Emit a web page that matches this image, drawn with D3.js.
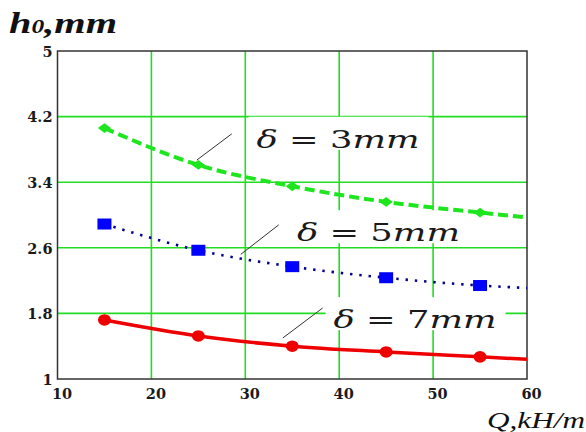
<!DOCTYPE html>
<html>
<head>
<meta charset="utf-8">
<script src="https://cdn.jsdelivr.net/npm/d3@7"></script>
<style>
body { margin:0; background:#fff; }
svg { display:block; }
</style>
</head>
<body>
<script>
// data
var qTicks = [10, 20, 30, 40, 50, 60];
var hTicks = [1, 1.8, 2.6, 3.4, 4.2, 5];
var qLine = [15, 25, 35, 45, 55, 60];
var qMarks = [15, 25, 35, 45, 55];
var h3 = [4.06, 3.61, 3.35, 3.16, 3.03, 2.97];
var h5 = [2.89, 2.57, 2.37, 2.235, 2.14, 2.11];
var h7 = [1.72, 1.525, 1.40, 1.33, 1.27, 1.24];
var deltas = ["3", "5", "7"];

var width = 586, height = 432;
var svg = d3.select("body").append("svg").attr("width", width).attr("height", height);

var x = d3.scaleLinear().domain([10, 60]).range([57.5, 527]);
var y = d3.scaleLinear().domain([1, 5]).range([379, 51]);

// grid
svg.append("g").selectAll("line").data(qTicks.slice(1, -1)).enter().append("line")
   .attr("x1", function(d) { return x(d); }).attr("x2", function(d) { return x(d); })
   .attr("y1", y(1)).attr("y2", y(5))
   .attr("stroke", "#22dd22").attr("stroke-width", 1.6);
svg.append("g").selectAll("line").data(hTicks.slice(1, -1)).enter().append("line")
   .attr("y1", function(d) { return y(d); }).attr("y2", function(d) { return y(d); })
   .attr("x1", x(10)).attr("x2", x(60))
   .attr("stroke", "#22dd22").attr("stroke-width", 1.6);

// annotation placement in data units: text start, baseline; leader from/to
var notes = [
  { q: 31.2, h: 3.82, lq1: 28.56, lh1: 3.99, lq2: 24.84, lh2: 3.67 },
  { q: 35.5, h: 2.68, lq1: 33.56, lh1: 2.88, lq2: 29.52, lh2: 2.52 },
  { q: 39.4, h: 1.62, lq1: 38.24, lh1: 1.866, lq2: 33.99, lh2: 1.50 }
];

// white boxes behind labels (they hide the grid)
notes.forEach(function(n) {
  svg.append("rect")
     .attr("x", x(n.q) - 8).attr("y", y(n.h) - 31)
     .attr("width", 180).attr("height", 33)
     .attr("fill", "#fff");
});

// frame
svg.append("rect").attr("x", x(10)).attr("y", y(5))
   .attr("width", x(60) - x(10)).attr("height", y(1) - y(5))
   .attr("fill", "none").attr("stroke", "#333").attr("stroke-width", 1.5);

// axes
var fontTick = "'DejaVu Serif', serif";
var yAxis = svg.append("g").attr("transform", "translate(" + x(10) + ",0)")
   .call(d3.axisLeft(y).tickValues(hTicks).tickSize(0).tickPadding(5).tickFormat(d3.format("")));
var xAxis = svg.append("g").attr("transform", "translate(0," + y(1) + ")")
   .call(d3.axisBottom(x).tickValues(qTicks).tickSize(0).tickPadding(10));
[yAxis, xAxis].forEach(function(a) {
  a.select(".domain").remove();
  a.selectAll("text").attr("font-family", fontTick).attr("font-size", 14.5)
   .attr("font-weight", "bold").attr("fill", "#1a1a1a");
});
xAxis.selectAll("text").attr("dx", 4);
yAxis.selectAll("text").attr("dy", "0.36em");

// curves
var line = d3.line().curve(d3.curveMonotoneX)
   .x(function(d) { return x(d[0]); }).y(function(d) { return y(d[1]); });
function pairs(vals) { return qLine.map(function(q, i) { return [q, vals[i]]; }); }

svg.append("path").attr("d", line(pairs(h3))).attr("fill", "none")
   .attr("stroke", "#1ee61e").attr("stroke-width", 4).attr("stroke-dasharray", "10,5");
svg.append("path").attr("d", line(pairs(h5))).attr("fill", "none")
   .attr("stroke", "#00008c").attr("stroke-width", 2.6).attr("stroke-dasharray", "2.4,6.9");
svg.append("path").attr("d", line(pairs(h7))).attr("fill", "none")
   .attr("stroke", "#ee0000").attr("stroke-width", 3.5);

// markers
var diamond = d3.symbol().type(d3.symbolSquare).size(66);
svg.append("g").selectAll("path").data(qMarks).enter().append("path")
   .attr("d", diamond)
   .attr("transform", function(d, i) { return "translate(" + x(d) + "," + y(h3[i]) + ") scale(1.15,0.85) rotate(45)"; })
   .attr("fill", "#1ee61e");
svg.append("g").selectAll("rect").data(qMarks).enter().append("rect")
   .attr("x", function(d) { return x(d) - 7; })
   .attr("y", function(d, i) { return y(h5[i]) - 5.5; })
   .attr("width", 14).attr("height", 11).attr("fill", "#0000ff");
svg.append("g").selectAll("ellipse").data(qMarks).enter().append("ellipse")
   .attr("cx", function(d) { return x(d); })
   .attr("cy", function(d, i) { return y(h7[i]); })
   .attr("rx", 6.5).attr("ry", 5.8).attr("fill", "#ee0000");

// labels with leader lines
notes.forEach(function(n, i) {
  svg.append("line")
     .attr("x1", x(n.lq1)).attr("y1", y(n.lh1)).attr("x2", x(n.lq2)).attr("y2", y(n.lh2))
     .attr("stroke", "#333").attr("stroke-width", 1);
  var t = svg.append("text").attr("x", x(n.q)).attr("y", y(n.h))
     .attr("font-family", "'DejaVu Serif', serif").attr("font-size", 24).attr("fill", "#1a1a1a")
     .attr("textLength", 163).attr("lengthAdjust", "spacingAndGlyphs");
  t.append("tspan").attr("font-style", "italic").text("δ");
  t.append("tspan").text(" = " + deltas[i]);
  t.append("tspan").attr("font-style", "italic").text("mm");
});

// axis titles
var ht = svg.append("text").attr("x", 9).attr("y", 33)
   .attr("font-family", "'Liberation Serif', serif").attr("font-style", "italic").attr("font-weight", "bold")
   .attr("font-size", 30).attr("fill", "#111")
   .attr("textLength", 108).attr("lengthAdjust", "spacingAndGlyphs");
ht.append("tspan").text("h");
ht.append("tspan").attr("font-size", 19).text("0");
ht.append("tspan").text(",mm");

svg.append("text").attr("x", 487).attr("y", 428)
   .attr("font-family", "'Liberation Serif', serif").attr("font-style", "italic")
   .attr("font-size", 23).attr("fill", "#111")
   .attr("textLength", 98).attr("lengthAdjust", "spacingAndGlyphs")
   .text("Q,kH/m");
</script>
</body>
</html>
